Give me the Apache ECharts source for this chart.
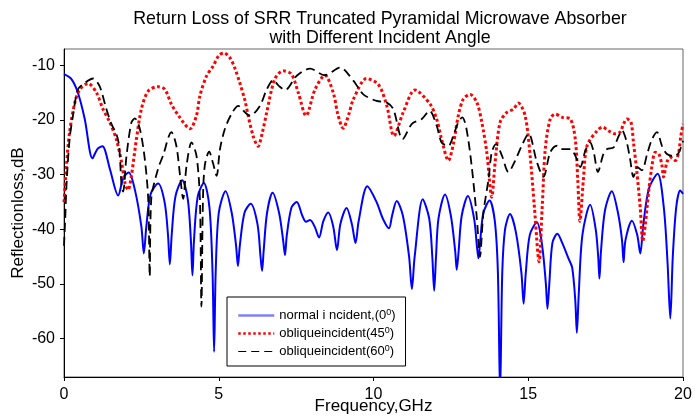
<!DOCTYPE html>
<html>
<head>
<meta charset="utf-8">
<script src="https://cdn.jsdelivr.net/npm/echarts@6/dist/echarts.min.js"></script>
<style>
html,body{margin:0;padding:0;background:#fff;}
#chart{width:695px;height:420px;}
</style>
</head>
<body>
<div id="chart"></div>
<script>
const titleLines = ['Return Loss of SRR Truncated Pyramidal Microwave Absorber', 'with Different Incident Angle'];
const seriesNames = ['normal i ncident,(0\u2070)', 'obliqueincident(45\u2070)', 'obliqueincident(60\u2070)'];
const xTicks = [0, 5, 10, 15, 20];
const yTicks = [-60, -50, -40, -30, -20, -10];

const normalFreq = [0,0.24,0.45,0.67,0.92,1.08,1.24,1.48,1.75,1.92,2.09,2.3,2.5,2.58,2.66,2.8,3.04,3.25,3.36,3.42,3.48,3.6,3.82,4.0,4.1,4.15,4.2,4.32,4.52,4.7,4.8,4.85,4.9,5.0,5.22,5.42,5.56,5.62,5.68,5.83,6.03,6.25,6.35,6.4,6.45,6.56,6.74,6.95,7.08,7.14,7.2,7.35,7.52,7.7,7.82,7.95,8.1,8.24,8.38,8.54,8.7,8.82,8.93,9.13,9.3,9.42,9.52,9.8,10.1,10.3,10.5,10.6,10.75,10.95,11.15,11.24,11.33,11.59,11.8,11.9,11.96,12.02,12.1,12.31,12.5,12.64,12.69,12.75,12.85,13.05,13.25,13.34,13.39,13.45,13.55,13.75,13.92,14.02,14.09,14.16,14.25,14.41,14.6,14.78,14.85,14.92,15.05,15.28,15.45,15.57,15.62,15.68,15.78,15.94,16.1,16.3,16.42,16.52,16.57,16.63,16.75,17.0,17.18,17.26,17.3,17.35,17.48,17.7,17.9,18.03,18.08,18.14,18.35,18.52,18.62,18.72,18.9,19.18,19.38,19.5,19.59,19.67,19.78,19.91,20];
const normalLoss = [-11.6,-12.5,-15.0,-19.8,-27.0,-25.3,-24.8,-28.9,-33.8,-30.5,-29.6,-33,-39.5,-44.4,-39.5,-33.5,-31.6,-35,-41,-46.4,-41,-34,-31.0,-34.5,-42,-48.4,-42,-34,-31.5,-36,-48,-62.4,-48,-37,-33.0,-37,-43,-46.7,-43,-37,-35.3,-39,-45,-47.6,-44,-37,-33.3,-37,-42,-44.7,-41,-36,-35.0,-37.5,-38.6,-38.3,-39.5,-41.5,-38.5,-36.9,-39.5,-43.8,-39,-36.1,-39,-42.5,-38.5,-32.1,-35,-38,-39.8,-37.5,-34.8,-37.5,-45,-50.9,-45,-34.5,-38,-45,-51.2,-45,-38,-33.6,-37.5,-44,-47.4,-44,-37.5,-33.9,-38,-43,-45.3,-42,-37,-34.7,-38.5,-48,-70,-48,-40,-37.2,-40.5,-48,-53.6,-48,-41,-38.7,-43,-50,-54.5,-50,-42.5,-40.8,-42.5,-45.3,-47,-53,-58.9,-52,-41,-35.5,-40,-45,-49,-44,-36.5,-33,-37,-42,-46,-42,-38.4,-41,-44.4,-39,-32.5,-29.8,-36,-46,-56.3,-45,-36,-32.9,-33.5];

const oblique45Freq = [0,0.08,0.18,0.35,0.51,0.78,1.05,1.26,1.48,1.69,1.86,1.97,2.07,2.17,2.34,2.5,2.72,3.04,3.26,3.47,3.74,4.07,4.28,4.39,4.6,4.82,5.0,5.16,5.36,5.52,5.68,5.85,5.95,6.11,6.27,6.4,6.55,6.81,7.08,7.35,7.57,7.82,8.11,8.43,8.7,8.85,9.02,9.2,9.35,9.78,10.16,10.43,10.66,10.96,11.34,11.83,12.04,12.2,12.42,12.58,12.74,12.9,13.12,13.34,13.5,13.66,13.82,13.93,14.09,14.31,14.52,14.68,14.9,15.06,15.2,15.35,15.45,15.55,15.71,15.87,16.1,16.36,16.52,16.6,16.67,16.78,16.9,17.22,17.4,17.6,17.81,17.97,18.08,18.19,18.32,18.4,18.51,18.62,18.7,18.78,18.89,19.0,19.1,19.22,19.32,19.37,19.48,19.59,19.75,19.86,19.93,20];
const oblique45Loss = [-35,-28.3,-22.2,-16.8,-14.4,-13.3,-15.0,-18.0,-20.4,-23.5,-27.7,-31.5,-32.8,-30.5,-23.5,-18.0,-14.7,-13.9,-14.4,-17.1,-19.5,-21.6,-19.2,-15.6,-12,-10.1,-8.2,-7.7,-8.6,-10.5,-13.2,-16.5,-19.2,-22.9,-24.8,-22.5,-18.6,-12.5,-11.0,-11.6,-15.0,-19.2,-14.4,-11.8,-15.0,-19,-21.5,-19,-16.2,-12.4,-13.5,-17.4,-22.9,-18.6,-14.5,-17.1,-19.8,-23.5,-27.4,-24.4,-19.2,-16.2,-15.3,-16.8,-20.4,-25.9,-34.1,-27.7,-20.4,-18.6,-18.0,-16.9,-19.2,-26.5,-36,-45.9,-36,-25.3,-19.8,-18.9,-19.5,-19.8,-23.5,-31,-38.5,-31,-24.7,-22.0,-21.3,-22,-22.5,-22.2,-20.7,-19.8,-20.4,-24.1,-29.5,-36.2,-42.2,-39.2,-33.1,-28.3,-25.9,-26.2,-28.3,-30.4,-27.7,-26.8,-27.4,-25.9,-22.9,-20.7];

const oblique60Freq = [0,0.04,0.08,0.18,0.29,0.45,0.67,0.94,1.15,1.37,1.53,1.69,1.78,1.86,1.91,2.02,2.18,2.29,2.45,2.61,2.72,2.77,2.82,3.04,3.2,3.47,3.63,3.76,3.85,3.96,4.12,4.28,4.39,4.44,4.49,4.55,4.69,4.82,4.93,5.04,5.2,5.41,5.63,5.85,6.01,6.33,6.55,6.76,6.95,7.14,7.52,7.95,8.43,8.92,9.35,9.67,10.1,10.43,10.64,10.94,11.24,11.56,11.81,12.04,12.2,12.42,12.6,12.74,12.87,13.0,13.17,13.34,13.44,13.55,13.72,13.82,13.96,14.15,14.36,14.57,14.79,15.01,15.28,15.49,15.71,15.93,16.1,16.36,16.52,16.68,16.85,17.0,17.12,17.25,17.43,17.55,17.76,17.9,18.03,18.18,18.29,18.4,18.53,18.67,18.85,19.0,19.16,19.32,19.48,19.7,19.86,20];
const oblique60Loss = [-43,-38,-32,-23.5,-19.2,-14.4,-13.2,-12.4,-13.8,-18.0,-20.7,-22.5,-24.7,-32,-33.1,-26.5,-20.4,-19.7,-21.6,-27.1,-34.4,-48.6,-34.4,-28.9,-26.5,-22.2,-24.7,-30.7,-34.4,-28.3,-24.1,-26.5,-34.4,-54.1,-34.4,-28.3,-25.8,-28,-30.2,-25.3,-21.6,-18.9,-17.4,-18.6,-19.2,-17.4,-14.4,-12.7,-13.8,-14.5,-11.9,-10.6,-11.8,-10.4,-12.8,-15.3,-16.5,-16.8,-18.0,-23.5,-20.7,-19.8,-18.3,-21.0,-24.1,-24.7,-22.5,-20.4,-19.5,-21.5,-28.3,-38.0,-45.0,-37,-30.7,-25.9,-24.4,-26.5,-29.5,-27.5,-24.7,-22.5,-27.7,-30.4,-25.9,-24.7,-25.3,-25.3,-26.5,-28.6,-25.5,-24.1,-26,-29.5,-26.2,-25.3,-25.0,-23.2,-21.9,-24,-27.1,-30.4,-28.6,-29.2,-26,-23.5,-22.2,-24.7,-26.2,-26.6,-26,-23.8];

function pairs(xs, ys) { return xs.map((x, i) => [x, ys[i]]); }

const chart = echarts.init(document.getElementById('chart'), null, {renderer: 'canvas'});
const FONT = 'Liberation Sans, Arial, sans-serif';

chart.setOption({
  animation: false,
  backgroundColor: '#fff',
  title: {
    text: titleLines.join('\n'),
    left: 375, top: 5, textAlign: 'center',
    textStyle: {fontFamily: FONT, fontSize: 17.8, fontWeight: 'normal', color: '#000', lineHeight: 19}
  },
  grid: {left: 64, right: 12, top: 49, bottom: 43, show: true, borderColor: '#666', borderWidth: 1,
    backgroundColor: 'transparent', outerBoundsMode: 'none', containLabel: false},
  xAxis: {
    type: 'value', min: 0, max: 20, interval: 5,
    name: 'Frequency,GHz', nameLocation: 'middle', nameGap: 21, nameMoveOverlap: false,
    nameTextStyle: {fontFamily: FONT, fontSize: 17, color: '#000'},
    axisLine: {show: true, onZero: false, lineStyle: {color: '#000', width: 1}},
    axisTick: {show: true, length: 4, inside: false, lineStyle: {color: '#000'}},
    axisLabel: {fontFamily: FONT, fontSize: 16, color: '#000', margin: 10,
      customValues: xTicks},
    splitLine: {show: false}
  },
  yAxis: {
    type: 'value', min: -67, max: -7,
    name: 'Reflectionloss,dB', nameLocation: 'middle', nameGap: 37, nameMoveOverlap: false,
    nameTextStyle: {fontFamily: FONT, fontSize: 17, color: '#000'},
    axisLine: {show: true, onZero: false, lineStyle: {color: '#000', width: 1}},
    axisTick: {show: true, length: 4, inside: false, lineStyle: {color: '#000'}, customValues: yTicks},
    axisLabel: {fontFamily: FONT, fontSize: 16, color: '#000', margin: 9, customValues: yTicks},
    splitLine: {show: false}
  },
  legend: {
    orient: 'vertical', left: 227, top: 297,
    backgroundColor: '#fff', borderColor: '#000', borderWidth: 1,
    padding: [11, 10, 8, 10], itemGap: 4, itemWidth: 36, itemHeight: 14,
    textStyle: {fontFamily: FONT, fontSize: 13, color: '#000',
      rich: {s: {fontFamily: FONT, fontSize: 9, color: '#000', padding: [0, 0, 6, 0]}}},
    formatter: function (name) { return name.replace('\u2070', '{s|0}'); },
    data: [
      {name: seriesNames[0], itemStyle: {opacity: 0}, lineStyle: {color: '#7f7fff', width: 2.5, type: 'solid', opacity: 1}},
      {name: seriesNames[1], itemStyle: {opacity: 0}, lineStyle: {color: '#ff0000', width: 2.5, type: [2.5, 2.5], opacity: 1}},
      {name: seriesNames[2], itemStyle: {opacity: 0}, lineStyle: {color: '#000', width: 1.2, type: [8, 5], opacity: 1}}
    ]
  },
  series: [
    {name: seriesNames[0], type: 'line', data: pairs(normalFreq, normalLoss), symbol: 'none', smooth: 0.3,
      lineStyle: {color: '#0000ff', width: 2}, itemStyle: {color: '#0000ff'}, clip: true},
    {name: seriesNames[1], type: 'line', data: pairs(oblique45Freq, oblique45Loss), symbol: 'none', smooth: 0.3,
      lineStyle: {color: '#ff0000', width: 3, type: [3, 2.5]}, itemStyle: {color: '#ff0000'}, clip: true},
    {name: seriesNames[2], type: 'line', data: pairs(oblique60Freq, oblique60Loss), symbol: 'none', smooth: 0.3,
      lineStyle: {color: '#000', width: 1.8, type: [9, 5]}, itemStyle: {color: '#000'}, clip: true}
  ]
});
</script>
</body>
</html>
